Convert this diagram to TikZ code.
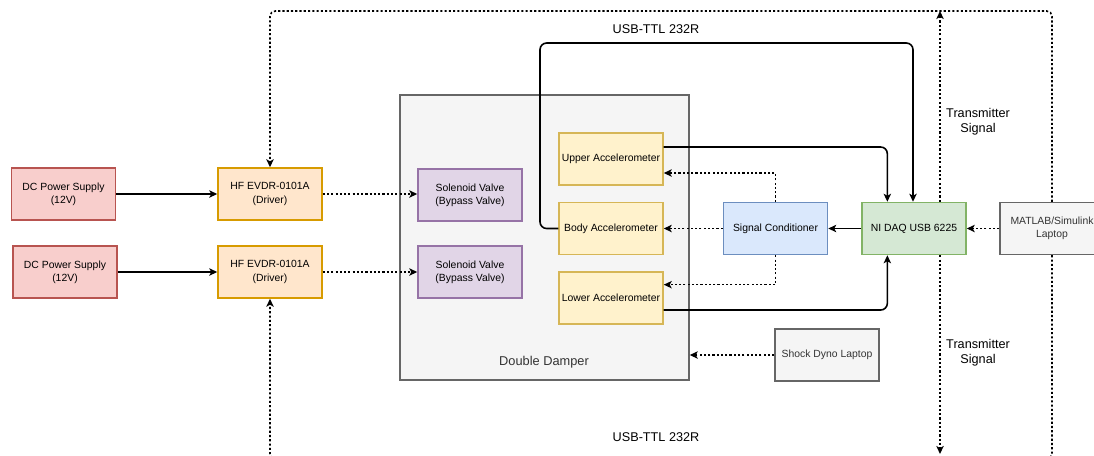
\documentclass[tikz,border=0pt]{standalone}
\usepackage{fontspec}
\setmainfont{Liberation Sans}
\usepackage{xcolor}
\usepackage{tikz}
\usetikzlibrary{arrows.meta, positioning, calc}
\definecolor{dcfill}{RGB}{248,206,204}
\definecolor{dcline}{RGB}{184,84,80}
\definecolor{drvfill}{RGB}{255,230,204}
\definecolor{drvline}{RGB}{215,155,0}
\definecolor{valvefill}{RGB}{225,213,231}
\definecolor{valveline}{RGB}{150,115,166}
\definecolor{accfill}{RGB}{255,242,204}
\definecolor{accline}{RGB}{214,182,86}
\definecolor{condfill}{RGB}{218,232,252}
\definecolor{condline}{RGB}{108,142,191}
\definecolor{daqfill}{RGB}{213,232,212}
\definecolor{daqline}{RGB}{130,179,102}
\definecolor{pcfill}{RGB}{245,245,245}
\definecolor{pcline}{RGB}{102,102,102}
\definecolor{pctext}{RGB}{51,51,51}

\tikzset{
  blockbox/.style={draw, line width=1.1pt, minimum width=78pt, minimum height=39pt,
    inner sep=2pt, align=center, font=\fontsize{7.8}{10}\selectfont},
  link/.style={draw=black, line width=1.2pt, -{Stealth[length=6pt,width=5.5pt,inset=1.5pt]}},
  dotlink/.style={link, dash pattern=on 1.6pt off 1.6pt},
  tag/.style={font=\fontsize{9.5}{11.3}\selectfont, align=center}
}

\begin{document}
\begin{tikzpicture}[x=0.75pt, y=-0.75pt]
\useasboundingbox (0,0) rectangle (1094,455);
\clip (0,0) rectangle (1094,455);
\fill[white] (0,0) rectangle (1094,455);

% damper housing
\node[draw=pcline, fill=pcfill, line width=1.1pt, minimum width=216.75pt,
      minimum height=213.75pt, inner sep=0pt] (damper) at (544.5,237.5) {};
\node[font=\fontsize{9.6}{12}\selectfont, text=pctext] (damperlbl) at (544,362) {Double Damper};

% supplies and drivers
\node[blockbox, fill=dcfill, draw=dcline] (dc1) at (63.5,194) {DC Power Supply\\(12V)};
\node[blockbox, fill=dcfill, draw=dcline] (dc2) at (65,272) {DC Power Supply\\(12V)};
\node[blockbox, fill=drvfill, draw=drvline] (drv1) at (270,194) {HF EVDR-0101A\\(Driver)};
\node[blockbox, fill=drvfill, draw=drvline] (drv2) at (270,272) {HF EVDR-0101A\\(Driver)};

% valves and sensors inside the damper
\node[blockbox, fill=valvefill, draw=valveline] (sol1) at (470,195) {Solenoid Valve\\(Bypass Valve)};
\node[blockbox, fill=valvefill, draw=valveline] (sol2) at (470,272) {Solenoid Valve\\(Bypass Valve)};
\node[blockbox, fill=accfill, draw=accline] (upper) at (611,159) {Upper Accelerometer};
\node[blockbox, fill=accfill, draw=accline] (body) at (611,228.5) {Body Accelerometer};
\node[blockbox, fill=accfill, draw=accline] (lower) at (611,298) {Lower Accelerometer};

% acquisition side
\node[blockbox, fill=condfill, draw=condline] (sig) at (775.5,228.5) {Signal Conditioner};
\node[blockbox, fill=daqfill, draw=daqline] (daq) at (914,228.5) {NI DAQ USB 6225};
\node[blockbox, fill=pcfill, draw=pcline, text=pctext] (matlab) at (1052,228.5) {MATLAB/Simulink\\Laptop};
\node[blockbox, fill=pcfill, draw=pcline, text=pctext] (shock) at (827,355) {Shock Dyno Laptop};

\coordinate (topy) at (0,11);
\coordinate (boty) at (0,459);
\coordinate (tipy) at (0,454);

% power and valve drive
\draw[link] (dc1) -- (drv1);
\draw[link] (dc2.east) -- (drv2.west |- dc2.east);
\draw[dotlink] (drv1.east) -- (sol1.west |- drv1.east);
\draw[dotlink] (drv2.east) -- (sol2.west |- drv2.east);

% sensor wiring
\draw[link, rounded corners=5pt] ([yshift=9pt]upper.east) -| ([xshift=-20pt]daq.north);
\draw[link, rounded corners=5pt] ([yshift=-9pt]lower.east) -| ([xshift=-20pt]daq.south);
\draw[link, rounded corners=5pt] (body.west) -| (540,43) -| ([xshift=-0.75pt]daq.north);
\draw[link] (daq) -- (sig);
\draw[dotlink] (sig) -- (body);
\draw[dotlink] (sig.north) |- ([yshift=-10.5pt]upper.east);
\draw[dotlink] (sig.south) |- ([yshift=10pt]lower.east);
\draw[dotlink] (matlab) -- (daq);
\draw[dotlink] (shock.west) -- (shock.west -| damper.east);

% serial links back to the drivers
\draw[dotlink, rounded corners=4pt] (matlab.north) |- (topy -| drv1.north) -- (drv1.north);
\draw[dotlink, rounded corners=4pt] (matlab.south) |- (boty -| drv2.south) -- (drv2.south);
\draw[dotlink] ([xshift=19.5pt]daq.north) -- ([xshift=19.5pt]daq.north |- topy);
\draw[dotlink] ([xshift=19.5pt]daq.south) -- ([xshift=19.5pt]daq.south |- tipy);

% labels
\node[tag] (usbtop) at (656,29) {USB-TTL 232R};
\node[tag] (usbbot) at (656,437) {USB-TTL 232R};
\node[tag] (txtop) at (978,122) {Transmitter\\Signal};
\node[tag] (txbot) at (978,353) {Transmitter\\Signal};
\end{tikzpicture}
\end{document}
